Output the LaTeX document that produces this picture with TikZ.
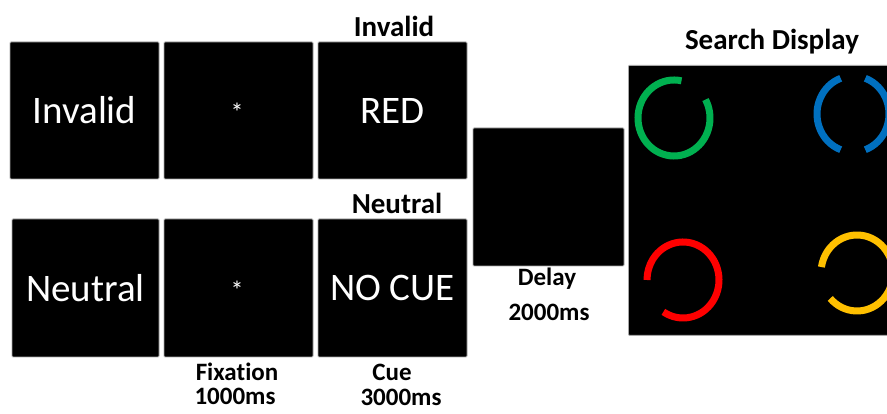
\documentclass[tikz,border=0pt]{standalone}
\usepackage{fontspec}
\setmainfont{Carlito}[Ligatures=NoCommon]
\definecolor{ringgreen}{RGB}{0,176,80}
\definecolor{ringblue}{RGB}{0,112,192}
\definecolor{ringred}{RGB}{255,0,0}
\definecolor{ringyellow}{RGB}{255,192,0}
\tikzset{
  screen/.style={draw=gray!70, line width=0.8pt, fill=black, text=white,
    rounded corners=1pt, inner sep=0pt, minimum width=149pt,
    minimum height=137pt, font=\fontsize{39}{39}\selectfont},
  fixstar/.style={text=white, inner sep=0pt, font=\fontsize{26}{26}\selectfont},
  heading/.style={font=\bfseries\fontsize{29}{29}\selectfont},
  timing/.style={font=\bfseries\fontsize{25}{25}\selectfont},
  ring/.style={line width=7pt},
}
\begin{document}
\begin{tikzpicture}[x=1pt, y=1pt]
    \useasboundingbox (0,0) rectangle (887,414);

    % invalid trial
    \node[screen] (invcond) at (84.5,303.5) {Invalid};
    \node[screen] (invfix) at (238.5,303.5) {};
    \node[fixstar] (invstar) at (237,302) {*};
    \node[screen] (invcue) at (392.5,303.5) {RED};
    \node[heading] (invhead) at (394,388) {Invalid};

    % neutral trial
    \node[screen, minimum width=147pt, minimum height=138pt] (neucond) at (85.5,126) {Neutral};
    \node[screen, minimum height=138pt] (neufix) at (238.5,126) {};
    \node[fixstar] (neustar) at (237,124) {*};
    \node[screen, minimum height=138pt] (neucue) at (392.5,126) {NO CUE};
    \node[heading] (neuhead) at (397,211) {Neutral};

    % timings under the screens
    \node[timing] (fixname) at (237,42) {Fixation};
    \node[timing] (fixtime) at (235,18) {1000ms};
    \node[timing] (cuename) at (392,42) {Cue};
    \node[timing] (cuetime) at (401,17) {3000ms};

    % delay screen
    \node[screen, minimum width=151pt, minimum height=138pt] (delay) at (548.5,217) {};
    \node[timing] (delayname) at (547,135) {Delay};
    \node[timing] (delaytime) at (549,102) {2000ms};

    % search display with the four rings
    \node[screen, anchor=north west, minimum width=272pt, minimum height=270pt] (search) at (628,349) {};
    \node[heading] (searchhead) at (772,372) {Search Display};
    \coordinate (gc) at (674,296);
    \coordinate (bc) at (853,300);
    \coordinate (rc) at (683,134);
    \coordinate (yc) at (857,141);
    \draw[ring, ringgreen] (gc) ++(78:36 and 38) arc[start angle=78, end angle=389, x radius=36, y radius=38];
    \draw[ring, ringblue] (bc) ++(110:36 and 38) arc[start angle=110, end angle=250, x radius=36, y radius=38];
    \draw[ring, ringblue] (bc) ++(-70:36 and 38) arc[start angle=-70, end angle=70, x radius=36, y radius=38];
    \draw[ring, ringred] (rc) ++(-123:36 and 38) arc[start angle=-123, end angle=180, x radius=36, y radius=38];
    \draw[ring, ringyellow] (yc) ++(222:36 and 38) arc[start angle=222, end angle=531, x radius=36, y radius=38];
\end{tikzpicture}
\end{document}
